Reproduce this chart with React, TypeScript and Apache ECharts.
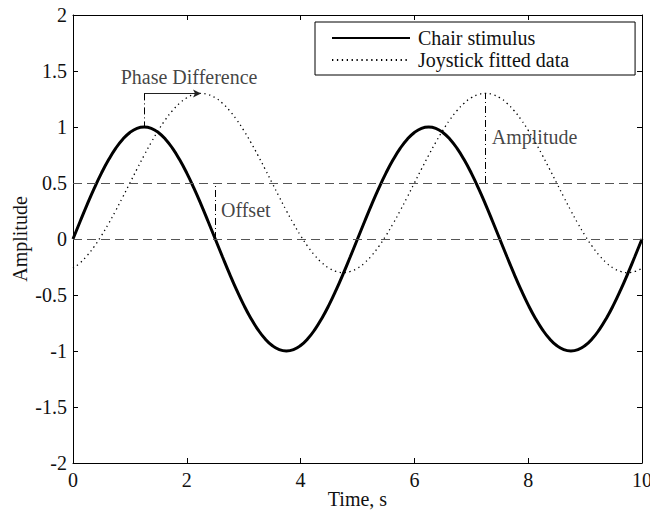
import { useEffect, useRef } from "react";
import * as echarts from "echarts";

// Sample times (s)
const TIME = [
  0, 0.125, 0.25, 0.375, 0.5, 0.625, 0.75, 0.875, 1, 1.125, 1.25, 1.375, 1.5, 1.625, 1.75, 1.875,
  2, 2.125, 2.25, 2.375, 2.5, 2.625, 2.75, 2.875, 3, 3.125, 3.25, 3.375, 3.5, 3.625, 3.75, 3.875,
  4, 4.125, 4.25, 4.375, 4.5, 4.625, 4.75, 4.875, 5, 5.125, 5.25, 5.375, 5.5, 5.625, 5.75, 5.875,
  6, 6.125, 6.25, 6.375, 6.5, 6.625, 6.75, 6.875, 7, 7.125, 7.25, 7.375, 7.5, 7.625, 7.75, 7.875,
  8, 8.125, 8.25, 8.375, 8.5, 8.625, 8.75, 8.875, 9, 9.125, 9.25, 9.375, 9.5, 9.625, 9.75, 9.875, 10,
];

// Chair stimulus amplitude at each sample time
const CHAIR = [
  0, 0.156, 0.309, 0.454, 0.588, 0.707, 0.809, 0.891, 0.951, 0.988, 1, 0.988, 0.951, 0.891, 0.809, 0.707,
  0.588, 0.454, 0.309, 0.156, 0, -0.156, -0.309, -0.454, -0.588, -0.707, -0.809, -0.891, -0.951, -0.988, -1, -0.988,
  -0.951, -0.891, -0.809, -0.707, -0.588, -0.454, -0.309, -0.156,
  0, 0.156, 0.309, 0.454, 0.588, 0.707, 0.809, 0.891, 0.951, 0.988, 1, 0.988, 0.951, 0.891, 0.809, 0.707,
  0.588, 0.454, 0.309, 0.156, 0, -0.156, -0.309, -0.454, -0.588, -0.707, -0.809, -0.891, -0.951, -0.988, -1, -0.988,
  -0.951, -0.891, -0.809, -0.707, -0.588, -0.454, -0.309, -0.156, 0,
];

// Joystick fitted data at each sample time
const JOYSTICK = [
  -0.261, -0.213, -0.147, -0.066, 0.03, 0.137, 0.253, 0.375,
  0.5, 0.625, 0.747, 0.863, 0.97, 1.066, 1.147, 1.213, 1.261, 1.29, 1.3, 1.29, 1.261, 1.213, 1.147, 1.066,
  0.97, 0.863, 0.747, 0.625, 0.5, 0.375, 0.253, 0.137, 0.03, -0.066, -0.147, -0.213, -0.261, -0.29, -0.3, -0.29,
  -0.261, -0.213, -0.147, -0.066, 0.03, 0.137, 0.253, 0.375,
  0.5, 0.625, 0.747, 0.863, 0.97, 1.066, 1.147, 1.213, 1.261, 1.29, 1.3, 1.29, 1.261, 1.213, 1.147, 1.066,
  0.97, 0.863, 0.747, 0.625, 0.5, 0.375, 0.253, 0.137, 0.03, -0.066, -0.147, -0.213, -0.261, -0.29, -0.3, -0.29,
  -0.261,
];

const SERIES_NAMES = ["Chair stimulus", "Joystick fitted data"];

// Horizontal reference levels (offset and zero)
const GUIDE_LEVELS = [0.5, 0];

// Annotation segments in data coordinates
const PHASE_ARROW = [[1.25, 1.3], [2.25, 1.3]];
const PHASE_DROP = [[1.25, 1.3], [1.25, 1.0]];
const OFFSET_BAR = [[2.5, 0], [2.5, 0.5]];
const AMPLITUDE_BAR = [[7.25, 0.5], [7.25, 1.3]];

// Annotation labels
const NOTE_TEXT = ["Phase Difference", "Offset", "Amplitude"];
const NOTE_POS = [[2.04, 1.45], [2.6, 0.26], [7.36, 0.91]];
const NOTE_ALIGN = ["center", "left", "left"];

const FONT = '"Liberation Serif", "Times New Roman", serif';
const FS = 20;

export default function App() {
  const ref = useRef<HTMLDivElement>(null);

  useEffect(() => {
    if (!ref.current) return;
    const chart = echarts.init(ref.current, undefined, { renderer: "svg" });

    const axisLine = { show: true, onZero: false, lineStyle: { color: "#000", width: 1 } };
    const axisTick = { show: true, inside: true, length: 5, lineStyle: { color: "#000", width: 1 } };
    const label = { color: "#111", fontFamily: FONT, fontSize: FS };

    const dashDot = { color: "#000", width: 1, type: [7, 3, 1, 3] };

    chart.setOption({
      animation: false,
      backgroundColor: "#fff",
      grid: { left: 73, right: 8, top: 15, bottom: 47, containLabel: false, outerBoundsMode: "none" },
      legend: {
        data: SERIES_NAMES,
        orient: "vertical",
        left: 315,
        top: 22,
        padding: [6, 66, 5, 16],
        itemGap: 2,
        itemWidth: 78,
        itemHeight: 14,
        borderColor: "#000",
        borderWidth: 1,
        backgroundColor: "#fff",
        itemStyle: { color: "rgba(0,0,0,0)", borderColor: "rgba(0,0,0,0)", borderWidth: 0 },
        textStyle: { ...label, padding: [0, 0, 0, 3] },
        selectedMode: false,
      },
      xAxis: [
        {
          type: "value",
          min: 0,
          max: 10,
          interval: 2,
          axisLine,
          axisTick,
          splitLine: { show: false },
          axisLabel: { ...label, margin: 7 },
          name: "Time, s",
          nameLocation: "middle",
          nameGap: 26,
          nameMoveOverlap: false,
          nameTextStyle: label,
        },
        {
          type: "value",
          position: "top",
          min: 0,
          max: 10,
          interval: 2,
          axisLine,
          axisTick,
          splitLine: { show: false },
          axisLabel: { show: false },
        },
      ],
      yAxis: [
        {
          type: "value",
          min: -2,
          max: 2,
          interval: 0.5,
          axisLine,
          axisTick,
          splitLine: { show: false },
          axisLabel: { ...label, margin: 6 },
          name: "Amplitude",
          nameLocation: "middle",
          nameGap: 43,
          nameMoveOverlap: false,
          nameTextStyle: label,
        },
        {
          type: "value",
          position: "right",
          min: -2,
          max: 2,
          interval: 0.5,
          axisLine,
          axisTick,
          splitLine: { show: false },
          axisLabel: { show: false },
        },
      ],
      series: [
        {
          name: "guides",
          type: "line",
          data: [],
          silent: true,
          markLine: {
            silent: true,
            symbol: ["none", "none"],
            label: { show: false },
            lineStyle: { color: "#555", width: 1, type: [9, 5] },
            data: GUIDE_LEVELS.map((v) => ({ yAxis: v })),
          },
        },
        {
          name: "annotations",
          type: "line",
          data: [],
          silent: true,
          markLine: {
            silent: true,
            symbol: ["none", "none"],
            label: { show: false },
            lineStyle: dashDot,
            data: [
              [
                { coord: PHASE_ARROW[0], symbol: "none" },
                { coord: PHASE_ARROW[1], symbol: "arrow", symbolSize: [6, 8] },
              ].map((p) => ({ ...p, lineStyle: { color: "#222", width: 1, type: "solid" } })),
              [{ coord: PHASE_DROP[0] }, { coord: PHASE_DROP[1] }],
              [{ coord: OFFSET_BAR[0] }, { coord: OFFSET_BAR[1] }],
              [{ coord: AMPLITUDE_BAR[0] }, { coord: AMPLITUDE_BAR[1] }],
            ],
          },
        },
        {
          name: SERIES_NAMES[1],
          type: "line",
          data: TIME.map((t, i) => [t, JOYSTICK[i]]),
          smooth: true,
          symbol: "none",
          color: "#000",
          lineStyle: { color: "#000", width: 1.3, type: [1.3, 3.6] },
          z: 3,
        },
        {
          name: SERIES_NAMES[0],
          type: "line",
          data: TIME.map((t, i) => [t, CHAIR[i]]),
          smooth: true,
          symbol: "none",
          color: "#000",
          lineStyle: { color: "#000", width: 3 },
          z: 4,
        },
        {
          name: "notes",
          type: "scatter",
          symbolSize: 0,
          silent: true,
          data: NOTE_TEXT.map((txt, i) => ({
            value: NOTE_POS[i],
            label: {
              show: true,
              position: "inside",
              formatter: txt,
              align: NOTE_ALIGN[i],
              verticalAlign: "middle",
              ...label,
            },
          })),
          z: 5,
        },
      ],
    });

    return () => chart.dispose();
  }, []);

  return (
    <div
      ref={ref}
      style={{ position: "fixed", left: 0, top: 0, width: 650, height: 510, background: "#fff" }}
    />
  );
}
